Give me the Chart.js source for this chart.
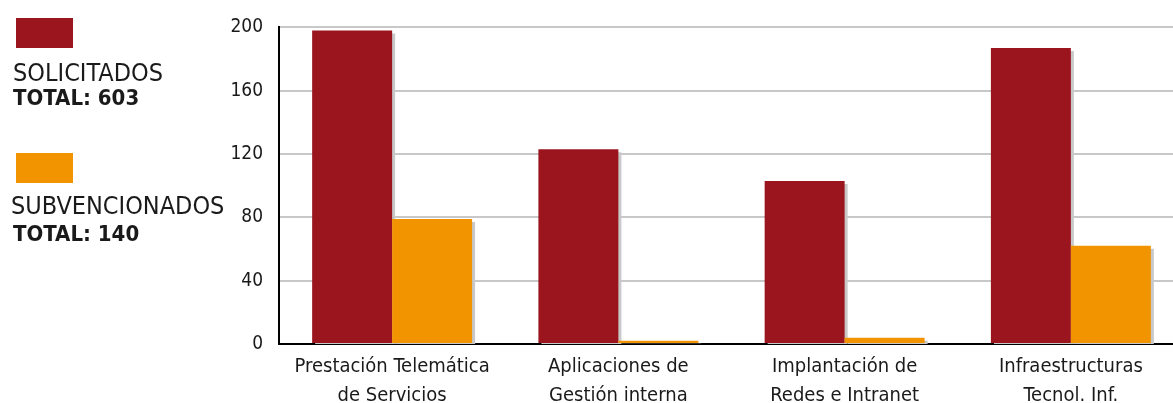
<!DOCTYPE html>
<html>
<head>
<meta charset="utf-8">
<script src="https://cdn.jsdelivr.net/npm/chart.js@4/dist/chart.umd.min.js"></script>
<style>
  html, body { margin: 0; padding: 0; background: #fff; overflow: hidden; }
  #wrap { position: relative; width: 1184px; height: 403px; }
  #chart { position: absolute; left: 0; top: 0; }
  .legend { position: absolute; font-family: "Liberation Sans Narrow", "DejaVu Sans Condensed", sans-serif; color: #1a1a1a; font-size: 25px; line-height: 26px; white-space: nowrap; }
  .legend b { font-weight: bold; font-size: 22px; }
  .swatch { position: absolute; width: 57px; height: 30px; }
</style>
</head>
<body>
<div id="wrap">
  <canvas id="chart" width="1184" height="403"></canvas>
  <div class="swatch" style="left:16px;top:18px;background:#9a151e"></div>
  <div class="legend" style="left:13px;top:60px">SOLICITADOS</div>
  <div class="legend" style="left:13px;top:84px"><b>TOTAL: 603</b></div>
  <div class="swatch" style="left:16px;top:153px;background:#f29400"></div>
  <div class="legend" style="left:11px;top:193px">SUBVENCIONADOS</div>
  <div class="legend" style="left:13px;top:220px"><b>TOTAL: 140</b></div>
</div>
<script>
// chart data
const categories = [
    ['Prestación Telemática', 'de Servicios'],
    ['Aplicaciones de', 'Gestión interna'],
    ['Implantación de', 'Redes e Intranet'],
    ['Infraestructuras', 'Tecnol. Inf.']
];
const solicitados = [198, 123, 103, 187];
const subvencionados = [79, 2, 4, 62];
const yTicks = [0, 40, 80, 120, 160, 200];

const RED = '#9a151e';
const ORANGE = '#f29400';
const FONT = '"Liberation Sans Narrow", "DejaVu Sans Condensed", sans-serif';

// flat grey drop shadow behind the bars; the second series is drawn last so
// it sits on top of the first one's shadow
let lastPass = false;
const barShadow = {
    id: 'barShadow',
    beforeDatasetDraw(chart, args) {
        if (args.index === 1 && !lastPass) return false;
        const ctx = chart.ctx;
        ctx.save();
        ctx.shadowColor = '#c8c8c8';
        ctx.shadowOffsetX = 3;
        ctx.shadowOffsetY = 3;
        ctx.shadowBlur = 0;
    },
    afterDatasetDraw(chart) {
        chart.ctx.restore();
    },
    afterDatasetsDraw(chart) {
        const meta = chart.getDatasetMeta(1);
        const area = chart.chartArea;
        const ctx = chart.ctx;
        lastPass = true;
        ctx.save();
        ctx.beginPath();
        ctx.rect(area.left, 0, area.right - area.left, area.bottom);
        ctx.clip();
        if (this.beforeDatasetDraw(chart, { index: 1 }) !== false) {
            meta.controller.draw();
            this.afterDatasetDraw(chart);
        }
        ctx.restore();
        lastPass = false;
    }
};

new Chart(document.getElementById('chart'), {
    type: 'bar',
    data: {
        labels: categories,
        datasets: [
            { label: 'SOLICITADOS', data: solicitados, backgroundColor: RED },
            { label: 'SUBVENCIONADOS', data: subvencionados, backgroundColor: ORANGE }
        ]
    },
    options: {
        responsive: false,
        animation: false,
        events: [],
        layout: { padding: { top: 17, left: 0, right: 0, bottom: 0 } },
        categoryPercentage: 0.707,
        barPercentage: 1,
        plugins: { legend: { display: false }, tooltip: { enabled: false } },
        scales: {
            x: {
                z: 1,
                grid: { display: false },
                border: { display: true, color: '#000', width: 2 },
                ticks: {
                    color: '#1a1a1a',
                    padding: 0,
                    maxRotation: 0,
                    autoSkip: false,
                    font: { family: FONT, size: 20, lineHeight: 1.45 }
                },
                afterFit(scale) { scale.height = 59; }
            },
            y: {
                min: 0,
                max: 200,
                afterBuildTicks(scale) { scale.ticks = yTicks.map(v => ({ value: v })); },
                grid: {
                    color: ctx => ctx.tick && ctx.tick.value === 0 ? 'rgba(0,0,0,0)' : '#c8c8c8',
                    lineWidth: 2,
                    drawTicks: false
                },
                border: { display: true, color: '#000', width: 2 },
                ticks: {
                    color: '#1a1a1a',
                    padding: 16,
                    font: { family: FONT, size: 19 }
                },
                afterFit(scale) { scale.width = 279; }
            }
        }
    },
    plugins: [barShadow]
});
</script>
</body>
</html>
